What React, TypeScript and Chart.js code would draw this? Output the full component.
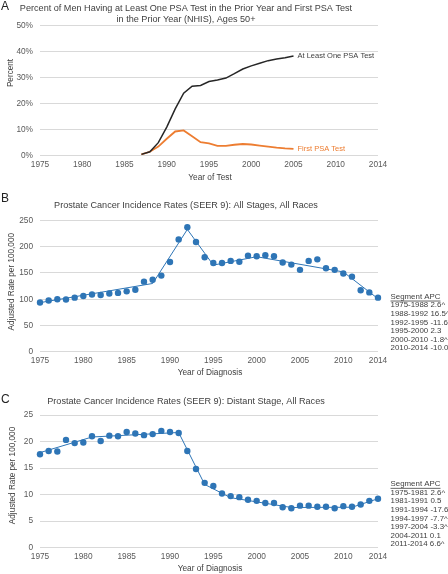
import React, { useEffect, useRef } from 'react';
import { Chart, registerables } from 'chart.js';

Chart.register(...registerables);

const FONT = '"Liberation Sans", Arial, Helvetica, sans-serif';
const TEXT = '#404040';
const TICK = '#595959';
const GRID = '#d9d9d9';
const BLUE = '#2E75B6';
const ORANGE = '#ED7D31';
const BLACK = '#262626';

// ---------- Panel A data ----------
const PSA_YEARS = [1987, 1988, 1989, 1990, 1991, 1992, 1993, 1994, 1995, 1996, 1997, 1998, 1999, 2000, 2001, 2002, 2003, 2004, 2005];
const AT_LEAST_ONE = [0.5, 1.5, 5, 11, 18, 24, 26.7, 27, 28.5, 29.1, 29.8, 31.5, 33.3, 34.5, 35.5, 36.5, 37.1, 37.6, 38.3];
const FIRST_PSA = [0.5, 1.5, 3.5, 6.5, 9.3, 9.7, 7.5, 5.2, 4.7, 3.8, 3.8, 4.2, 4.5, 4.3, 3.9, 3.5, 3.1, 2.8, 2.6];
const A_X_TICKS = [1975, 1980, 1985, 1990, 1995, 2000, 2005, 2010, 2015];
const A_X_LABELS = ['1975', '1980', '1985', '1990', '1995', '2000', '2005', '2010', '2014'];

// ---------- Panels B, C shared ----------
const YEARS = [1975, 1976, 1977, 1978, 1979, 1980, 1981, 1982, 1983, 1984, 1985, 1986, 1987, 1988, 1989, 1990, 1991, 1992, 1993, 1994, 1995, 1996, 1997, 1998, 1999, 2000, 2001, 2002, 2003, 2004, 2005, 2006, 2007, 2008, 2009, 2010, 2011, 2012, 2013, 2014];
const X_TICKS = [1975, 1980, 1985, 1990, 1995, 2000, 2005, 2010, 2014];

// ---------- Panel B data ----------
const ALL_STAGES = [93.7, 97.5, 100, 99.4, 103, 106, 109, 108, 111, 112, 115, 118, 133.5, 137, 145, 171, 214, 237, 209, 180, 169, 169, 173, 171.5, 183, 182, 184, 182, 170, 166, 156, 173, 176, 159, 156, 149, 143, 117, 113, 103];
const ALL_TREND_YEARS = [1975, 1988, 1992, 1995, 2000, 2010, 2014];
const ALL_TREND = [93.5, 130, 233, 165, 181, 152, 101];
const ALL_APC = ['1975-1988 2.6^', '1988-1992 16.5^', '1992-1995 -11.6^', '1995-2000 2.3', '2000-2010 -1.8^', '2010-2014 -10.0^'];

// ---------- Panel C data ----------
const DISTANT = [17.6, 18.2, 18.1, 20.3, 19.7, 19.8, 21.0, 20.1, 21.1, 21.0, 21.8, 21.5, 21.2, 21.4, 22.0, 21.8, 21.6, 18.2, 14.8, 12.2, 11.6, 10.2, 9.7, 9.5, 9.0, 8.8, 8.4, 8.4, 7.6, 7.4, 7.9, 7.9, 7.7, 7.7, 7.4, 7.8, 7.7, 8.1, 8.8, 9.2];
const DIST_TREND_YEARS = [1975, 1981, 1991, 1994, 1997, 2004, 2011, 2014];
const DIST_TREND = [17.9, 20.85, 21.7, 11.9, 9.4, 7.55, 7.6, 9.2];
const DIST_APC = ['1975-1981 2.6^', '1981-1991 0.5', '1991-1994 -17.6^', '1994-1997 -7.7^', '1997-2004 -3.3^', '2004-2011 0.1', '2011-2014 6.6^'];

const W = 448;

type TextItem = {
  text: string;
  x: number;
  y: number;
  size: number;
  color?: string;
  align?: CanvasTextAlign;
  rotate?: boolean;
  underline?: boolean;
};

function textPlugin(getItems: (chart: any) => TextItem[]) {
  return {
    id: 'texts',
    afterDraw(chart: any) {
      const ctx = chart.ctx as CanvasRenderingContext2D;
      const items = getItems(chart);
      for (const it of items) {
        ctx.save();
        ctx.font = `${it.size}px ${FONT}`;
        ctx.fillStyle = it.color || TEXT;
        ctx.textAlign = it.align || 'center';
        ctx.textBaseline = 'middle';
        if (it.rotate) {
          ctx.translate(it.x, it.y);
          ctx.rotate(-Math.PI / 2);
          ctx.fillText(it.text, 0, 0);
        } else {
          ctx.fillText(it.text, it.x, it.y);
          if (it.underline) {
            const w = ctx.measureText(it.text).width;
            const x0 = it.align === 'left' ? it.x : it.x - w / 2;
            ctx.strokeStyle = it.color || TEXT;
            ctx.lineWidth = 0.8;
            ctx.beginPath();
            ctx.moveTo(x0, it.y + it.size * 0.55);
            ctx.lineTo(x0 + w, it.y + it.size * 0.55);
            ctx.stroke();
          }
        }
        ctx.restore();
      }
    },
  };
}

function baseScales(opts: {
  H: number;
  bottom: number;
  xMin: number;
  xMax: number;
  xTicks: number[];
  xLabels: string[];
  yMax: number;
  yStep: number;
  ySuffix?: string;
}) {
  return {
    x: {
      type: 'linear' as const,
      min: opts.xMin,
      max: opts.xMax,
      afterBuildTicks: (axis: any) => {
        axis.ticks = opts.xTicks.map((v) => ({ value: v }));
      },
      afterFit: (s: any) => {
        s.height = opts.H - opts.bottom;
      },
      grid: { display: false, drawTicks: false },
      border: { display: false },
      ticks: {
        autoSkip: false,
        maxRotation: 0,
        padding: 4.5,
        color: TICK,
        font: { family: FONT, size: 8.3 },
        callback: (_v: any, i: number) => opts.xLabels[i],
      },
    },
    y: {
      min: 0,
      max: opts.yMax,
      afterFit: (s: any) => {
        s.width = 40;
      },
      grid: { color: GRID, lineWidth: 1, drawTicks: false },
      border: { display: false },
      ticks: {
        stepSize: opts.yStep,
        padding: 7,
        color: TICK,
        font: { family: FONT, size: 8.3 },
        callback: (v: any) => `${v}${opts.ySuffix || ''}`,
      },
    },
  };
}

function PanelA() {
  const ref = useRef<HTMLCanvasElement>(null);
  useEffect(() => {
    const H = 185;
    const chart = new Chart(ref.current!, {
      type: 'line',
      data: {
        datasets: [
          {
            label: 'At Least One PSA Test',
            data: PSA_YEARS.map((x, i) => ({ x, y: AT_LEAST_ONE[i] })),
            borderColor: BLACK,
            borderWidth: 1.5,
            pointRadius: 0,
            tension: 0,
          },
          {
            label: 'First PSA Test',
            data: PSA_YEARS.map((x, i) => ({ x, y: FIRST_PSA[i] })),
            borderColor: ORANGE,
            borderWidth: 1.8,
            pointRadius: 0,
            tension: 0,
          },
        ],
      },
      options: {
        responsive: false,
        animation: false,
        layout: { padding: { top: 25.5, right: 70, left: 0, bottom: 0 } },
        plugins: { legend: { display: false }, tooltip: { enabled: false } },
        scales: baseScales({
          H,
          bottom: 155.7,
          xMin: 1975,
          xMax: 2015,
          xTicks: A_X_TICKS,
          xLabels: A_X_LABELS,
          yMax: 50,
          yStep: 10,
          ySuffix: '%',
        }) as any,
      },
      plugins: [
        textPlugin((c) => {
          const xs = c.scales.x;
          const ys = c.scales.y;
          const last = PSA_YEARS.length - 1;
          const lx = xs.getPixelForValue(PSA_YEARS[last]) + 4;
          return [
            { text: 'A', x: 1, y: 6.5, size: 12, align: 'left', color: '#222' },
            { text: 'Percent of Men Having at Least One PSA Test in the Prior Year and First PSA Test', x: 186, y: 8.5, size: 9.1 },
            { text: 'in the Prior Year (NHIS), Ages 50+', x: 186, y: 19.5, size: 9.1 },
            { text: 'Percent', x: 11, y: 73, size: 8.2 },
            { text: 'Year of Test', x: 210, y: 177.5, size: 8.3 },
            { text: 'At Least One PSA Test', x: lx, y: ys.getPixelForValue(AT_LEAST_ONE[last]), size: 7.5, align: 'left', color: TEXT },
            { text: 'First PSA Test', x: lx, y: ys.getPixelForValue(FIRST_PSA[last]), size: 7.5, align: 'left', color: ORANGE },
          ].map((t, i) => (i === 3 ? { ...t, rotate: true } : t)) as TextItem[];
        }),
      ],
    });
    return () => chart.destroy();
  }, []);
  return <canvas ref={ref} width={W} height={185} style={{ position: 'absolute', left: 0, top: 0, display: 'block' }} />;
}

function RatePanel(props: {
  top: number;
  H: number;
  chartTop: number;
  chartBottom: number;
  yMax: number;
  yStep: number;
  values: number[];
  trendYears: number[];
  trend: number[];
  apc: string[];
  letter: string;
  letterY: number;
  title: string;
  titleY: number;
  yTitleX: number;
  yTitleY: number;
  xTitleY: number;
  legendY: number;
}) {
  const ref = useRef<HTMLCanvasElement>(null);
  useEffect(() => {
    const p = props;
    const chart = new Chart(ref.current!, {
      type: 'line',
      data: {
        datasets: [
          {
            label: 'Trend',
            data: p.trendYears.map((x, i) => ({ x, y: p.trend[i] })),
            borderColor: BLUE,
            borderWidth: 1,
            pointRadius: 0,
            tension: 0,
            clip: false,
            order: 2,
          },
          {
            label: 'Observed',
            data: YEARS.map((x, i) => ({ x, y: p.values[i] })),
            showLine: false,
            pointRadius: 3.2,
            pointBackgroundColor: BLUE,
            pointBorderColor: BLUE,
            pointBorderWidth: 0,
            clip: false,
            order: 1,
          },
        ],
      },
      options: {
        responsive: false,
        animation: false,
        layout: { padding: { top: p.chartTop, right: 70, left: 0, bottom: 0 } },
        plugins: { legend: { display: false }, tooltip: { enabled: false } },
        scales: baseScales({
          H: p.H,
          bottom: p.chartBottom,
          xMin: 1975,
          xMax: 2014,
          xTicks: X_TICKS,
          xLabels: X_TICKS.map(String),
          yMax: p.yMax,
          yStep: p.yStep,
        }) as any,
      },
      plugins: [
        textPlugin(() => {
          const items: TextItem[] = [
            { text: p.letter, x: 1, y: p.letterY, size: 12, align: 'left', color: '#222' },
            { text: p.title, x: 186, y: p.titleY, size: 9.1 },
            { text: 'Adjusted Rate per 100,000', x: p.yTitleX, y: p.yTitleY, size: 8.2, rotate: true },
            { text: 'Year of Diagnosis', x: 210, y: p.xTitleY, size: 8.3 },
            { text: 'Segment APC', x: 390.5, y: p.legendY, size: 7.9, align: 'left', underline: true },
          ];
          p.apc.forEach((t, i) => {
            items.push({ text: t, x: 390.5, y: p.legendY + 8.6 * (i + 1), size: 7.9, align: 'left' });
          });
          return items;
        }),
      ],
    });
    return () => chart.destroy();
  }, []);
  return <canvas ref={ref} width={W} height={props.H} style={{ position: 'absolute', left: 0, top: props.top, display: 'block' }} />;
}

export default function App() {
  return (
    <div style={{ position: 'fixed', left: 0, top: 0, width: W, height: 574, background: '#fff', overflow: 'hidden' }}>
      <PanelA />
      <RatePanel
        top={185}
        H={195}
        chartTop={35.5}
        chartBottom={166.7}
        yMax={250}
        yStep={50}
        values={ALL_STAGES}
        trendYears={ALL_TREND_YEARS}
        trend={ALL_TREND}
        apc={ALL_APC}
        letter="B"
        letterY={13.5}
        title="Prostate Cancer Incidence Rates (SEER 9): All Stages, All Races"
        titleY={20.7}
        yTitleX={11.7}
        yTitleY={96.7}
        xTitleY={188}
        legendY={111.7}
      />
      <RatePanel
        top={375}
        H={199}
        chartTop={40}
        chartBottom={172.5}
        yMax={25}
        yStep={5}
        values={DISTANT}
        trendYears={DIST_TREND_YEARS}
        trend={DIST_TREND}
        apc={DIST_APC}
        letter="C"
        letterY={25}
        title="Prostate Cancer Incidence Rates (SEER 9): Distant Stage, All Races"
        titleY={26}
        yTitleX={12.3}
        yTitleY={100.5}
        xTitleY={193.3}
        legendY={109}
      />
    </div>
  );
}
